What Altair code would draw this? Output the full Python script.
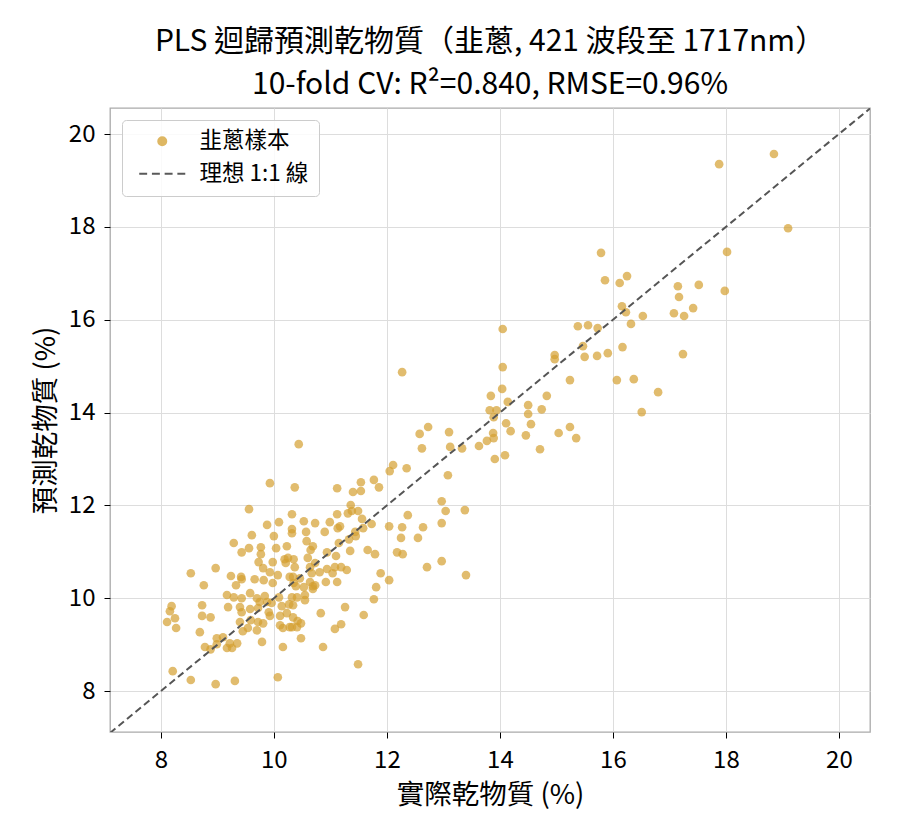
import altair as alt
import pandas as pd

# measured dry matter (%) -- x
actual = [
    18.85, 17.88, 19.10, 18.02, 17.98, 17.52, 17.17, 17.15, 17.42, 17.26, 17.08, 17.24,
    15.79, 15.86, 16.25, 16.12, 16.16, 16.23, 16.53, 16.32, 15.38, 15.56, 15.73, 15.47,
    14.97, 14.97, 15.50, 15.72, 15.91, 16.17, 15.24, 16.07, 16.37, 16.80, 14.83, 14.50,
    14.50, 14.74, 16.51, 14.55, 14.46, 15.04, 15.24, 15.35, 14.71, 14.05, 12.27, 14.05,
    14.04, 13.84, 14.14, 13.82, 13.94, 13.89, 14.11, 14.19, 13.88, 13.89, 13.77, 13.63,
    14.09, 13.91, 12.58, 12.73, 13.10, 12.62, 13.12, 13.33, 12.11, 12.05, 12.35, 13.08,
    10.44, 10.37, 11.12, 11.40, 11.54, 11.54, 11.77, 11.86, 12.97, 13.04, 13.38, 12.37,
    12.97, 12.64, 12.55, 12.25, 12.27, 12.04, 11.36, 11.38, 11.49, 11.31, 11.56, 11.73,
    11.12, 11.58, 11.44, 11.45, 11.33, 11.17, 11.13, 10.99, 10.90, 10.73, 10.53, 10.57,
    10.32, 10.32, 10.32, 10.58, 10.69, 10.65, 11.15, 11.35, 11.66, 11.79, 12.18, 12.28,
    10.94, 11.10, 10.60, 10.73, 10.35, 12.97, 12.71, 13.40, 11.89, 12.04, 11.81, 11.29,
    11.19, 11.08, 11.04, 11.12, 10.94, 10.92, 10.81, 10.64, 10.67, 10.64, 10.37, 10.34,
    10.35, 10.69, 11.77, 11.26, 11.59, 10.83, 11.19, 11.08, 10.48, 10.42, 10.41, 10.32,
    10.48, 10.87, 11.49, 10.41, 10.55, 10.55, 10.32, 10.34, 10.69, 10.73, 9.56, 10.09,
    9.88, 9.61, 10.00, 9.29, 9.43, 9.56, 9.77, 10.04, 10.23, 9.77, 9.73, 9.98,
    10.19, 10.25, 10.21, 9.81, 9.93, 10.07, 10.28, 10.46, 9.66, 9.82, 9.98, 10.39,
    10.53, 9.42, 9.43, 9.24, 9.33, 8.97, 8.76, 8.53, 9.17, 9.29, 9.43, 9.58,
    9.70, 9.84, 9.75, 9.88, 9.96, 10.09, 10.14, 10.27, 9.19, 9.40, 9.43, 9.58,
    9.72, 9.91, 9.93, 10.11, 10.23, 10.34, 8.73, 8.73, 8.88, 9.40, 9.59, 9.72,
    9.81, 10.11, 10.16, 10.28, 9.45, 9.54, 9.70, 8.69, 9.35, 9.22, 9.10, 8.99,
    8.78, 8.88, 9.79, 10.16, 9.93, 8.19, 8.16, 8.25, 8.11, 8.27, 8.21, 8.53,
    8.97, 9.31, 10.07, 9.17, 9.26, 8.99,
]

# predicted dry matter (%) -- y
predicted = [
    19.57, 19.35, 17.97, 17.46, 16.62, 16.75, 16.49, 16.72, 16.25, 16.08, 16.14, 15.26,
    17.44, 16.85, 16.94, 16.79, 16.29, 16.16, 16.08, 15.91, 15.86, 15.88, 15.82, 15.43,
    15.24, 15.15, 15.20, 15.22, 15.28, 15.41, 14.70, 14.70, 14.72, 14.44, 14.36, 14.16,
    13.97, 14.07, 14.01, 13.75, 13.51, 13.56, 13.69, 13.45, 13.21, 15.80, 14.87, 14.98,
    14.51, 14.36, 14.23, 14.05, 14.05, 13.90, 13.77, 13.60, 13.56, 13.45, 13.39, 13.28,
    13.08, 13.00, 13.54, 13.69, 13.58, 13.23, 13.26, 13.23, 12.87, 12.74, 12.80, 12.65,
    13.32, 12.39, 12.37, 12.29, 12.50, 12.31, 12.55, 12.39, 12.09, 11.88, 11.90, 11.79,
    11.62, 11.53, 11.30, 11.30, 11.53, 11.55, 12.01, 11.88, 11.88, 11.83, 11.71, 11.60,
    11.81, 11.51, 11.43, 11.34, 11.27, 11.55, 11.51, 11.64, 11.43, 11.62, 11.66, 11.43,
    11.81, 11.49, 11.40, 11.23, 11.12, 11.04, 11.19, 11.02, 11.04, 10.95, 10.99, 10.95,
    10.99, 10.91, 10.87, 10.76, 10.84, 10.80, 10.67, 10.50, 10.54, 10.39, 10.24, 10.61,
    10.67, 10.67, 10.54, 10.35, 10.63, 10.35, 10.56, 10.67, 10.54, 10.35, 10.67, 10.46,
    10.33, 10.26, 9.98, 9.81, 9.64, 9.68, 9.44, 9.34, 9.46, 9.51, 9.38, 9.38,
    9.14, 8.95, 8.58, 10.02, 10.07, 9.96, 10.02, 9.85, 10.20, 10.28, 11.92, 11.64,
    11.58, 11.36, 11.34, 11.19, 10.99, 11.08, 11.10, 11.08, 11.12, 10.95, 10.78, 10.78,
    10.84, 10.87, 10.76, 10.65, 10.56, 10.50, 10.46, 10.43, 10.41, 10.39, 10.33, 10.26,
    10.24, 10.46, 10.41, 10.48, 10.28, 10.65, 10.28, 10.54, 10.07, 10.02, 10.00, 10.11,
    10.00, 10.05, 9.92, 9.92, 9.90, 10.02, 9.83, 9.87, 9.81, 9.81, 9.70, 9.77,
    9.79, 9.70, 9.62, 9.62, 9.68, 9.59, 9.85, 9.62, 9.59, 9.49, 9.53, 9.49,
    9.46, 9.42, 9.36, 9.38, 9.29, 9.36, 9.31, 9.27, 9.03, 9.03, 9.16, 9.14,
    8.95, 8.90, 9.06, 8.95, 12.48, 9.83, 9.72, 9.57, 9.49, 9.36, 8.43, 8.24,
    8.15, 8.22, 8.30, 8.93, 8.93, 9.01,
]

line_ends = [7.1, 20.55]
tick_values = [8, 10, 12, 14, 16, 18, 20]
series_names = ["韭蔥樣本", "理想 1:1 線"]
title_lines = ["PLS 迴歸預測乾物質（韭蔥, 421 波段至 1717nm）",
               "10-fold CV: R²=0.840, RMSE=0.96%"]
x_title = "實際乾物質 (%)"
y_title = "預測乾物質 (%)"

FONT = "Noto Sans CJK TC"
PT_COLOR = "#D4A030"
LINE_COLOR = "#555555"
# legend symbols drawn as custom symbol paths (unit space):
# a dot made of concentric rings, and a dashed stroke
DOT_PATH = ("M-1.07,0A1.07,1.07 0 1,0 1.07,0A1.07,1.07 0 1,0 -1.07,0"
            "M-0.67,0A0.67,0.67 0 1,0 0.67,0A0.67,0.67 0 1,0 -0.67,0"
            "M-0.27,0A0.27,0.27 0 1,0 0.27,0A0.27,0.27 0 1,0 -0.27,0")
DASH_PATH = "M-6.15,0L-4.04,0M-2.76,0L-0.64,0M0.64,0L2.76,0M4.04,0L6.15,0"

pts = pd.DataFrame({"actual": actual, "predicted": predicted})
ln = pd.DataFrame({"actual": line_ends, "predicted": line_ends})
leg = pd.DataFrame({"actual": line_ends, "predicted": line_ends, "series": series_names})

xscale = alt.Scale(domain=[7.1, 20.55], nice=False, zero=False)
yscale = alt.Scale(domain=[7.12, 20.56], nice=False, zero=False)

axis_common = dict(
    values=tick_values, grid=True, gridColor="#dddddd", gridWidth=1,
    domain=False, ticks=True, tickColor="black", tickSize=6, tickWidth=1,
    labelFont=FONT, titleFont=FONT, labelFontSize=24, titleFontSize=27.5,
    labelColor="black", titleColor="black", titleFontWeight="normal",
)
xaxis = alt.Axis(title=x_title, labelPadding=10, titlePadding=9, **axis_common)
yaxis = alt.Axis(title=y_title, labelPadding=9, titlePadding=8, **axis_common)

legend = alt.Legend(
    title=None, orient="none", legendX=12, legendY=12,
    labelFont=FONT, labelFontSize=22.5, labelColor="black",
    fillColor="rgba(255,255,255,0.85)", strokeColor="#cccccc", cornerRadius=4,
    padding=10, rowPadding=9.5, symbolSize=56, symbolOffset=19, labelOffset=26,
    symbolStrokeWidth=2, symbolOpacity=0.75,
)

points = alt.Chart(pts).mark_circle(size=75, opacity=0.7, color=PT_COLOR).encode(
    x=alt.X("actual:Q", scale=xscale, axis=xaxis),
    y=alt.Y("predicted:Q", scale=yscale, axis=yaxis),
)

diag = alt.Chart(ln).mark_line(color=LINE_COLOR, strokeDash=[7, 4], strokeWidth=2, clip=True).encode(
    x=alt.X("actual:Q", scale=xscale),
    y=alt.Y("predicted:Q", scale=yscale),
)

legend_layer = alt.Chart(leg).mark_point(filled=False, opacity=0).encode(
    x=alt.X("actual:Q", scale=xscale),
    y=alt.Y("predicted:Q", scale=yscale),
    color=alt.Color("series:N",
                    scale=alt.Scale(domain=series_names, range=[PT_COLOR, "#222222"]),
                    legend=legend),
    shape=alt.Shape("series:N",
                    scale=alt.Scale(domain=series_names, range=[DOT_PATH, DASH_PATH]),
                    legend=legend),
)

chart = alt.layer(points, diag, legend_layer).properties(
    width=760, height=624,
    autosize=alt.AutoSizeParams(type="none"),
    padding={"left": 110, "top": 108, "right": 30, "bottom": 108},
    title=alt.TitleParams(text=title_lines, font=FONT, fontSize=30, fontWeight="normal",
                          color="black", anchor="middle", offset=8, lineHeight=43.5),
).configure_view(stroke="#aaaaaa", strokeWidth=1.3)

chart.save("out.html", embed_options={"renderer": "svg", "actions": False})
